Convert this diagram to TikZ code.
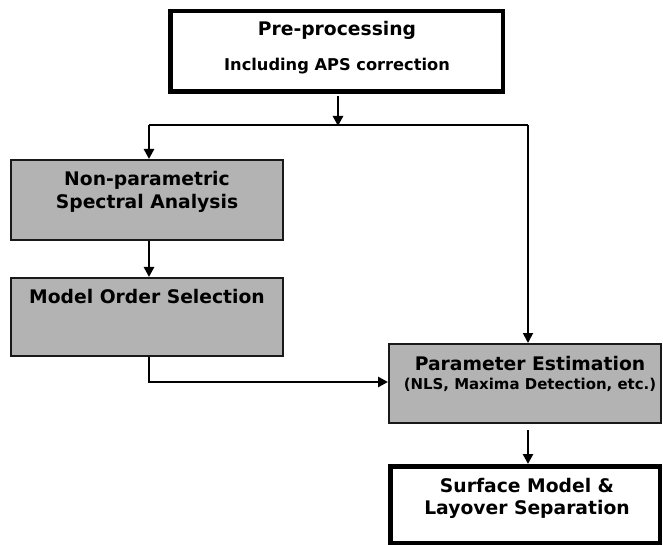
\documentclass[tikz,border=0pt]{standalone}
\usepackage{fontspec}
\setmainfont{DejaVu Sans}
\usetikzlibrary{arrows.meta}
\definecolor{boxgray}{HTML}{B3B3B3}
\begin{document}
\begin{tikzpicture}[x=1bp,y=-1bp,
  graybox/.style={draw=black!90, line width=2bp, fill=boxgray, inner sep=0pt},
  whitebox/.style={draw=black, line width=4.5bp, fill=white, inner sep=0pt},
  title/.style={font=\fontsize{18.8}{22}\selectfont\bfseries, anchor=base, inner sep=0pt},
  subA/.style={font=\fontsize{16.3}{20}\selectfont\bfseries, anchor=base, inner sep=0pt},
  subB/.style={font=\fontsize{15}{18}\selectfont\bfseries, anchor=base, inner sep=0pt},
  tip/.style={-{Triangle[length=10bp,width=10bp]}},
  conn/.style={line width=2.5bp, tip},
  thinconn/.style={line width=1.8bp},
]
\useasboundingbox (0,0) rectangle (663,546);
% boxes
\node[whitebox, minimum width=332.5bp, minimum height=80.5bp] (pre) at (336.5,51.5) {};
\node[graybox, minimum width=272bp, minimum height=80bp] (npsa) at (147,200) {};
\node[graybox, minimum width=272bp, minimum height=78bp] (mos) at (147,317) {};
\node[graybox, minimum width=272bp, minimum height=79bp] (pe) at (525,383.5) {};
\node[whitebox, minimum width=269.5bp, minimum height=76.5bp] (sm) at (525,504.5) {};
% texts
\node[title] (t1) at (337,36) {Pre-processing};
\node[subA] (t2) at (337,71) {Including APS correction};
\node[title] (t3) at (147,186) {Non-parametric};
\node[title] (t4) at (147,209) {Spectral Analysis};
\node[title] (t5) at (147,303) {Model Order Selection};
\node[title] (t6) at (530,370.5) {Parameter Estimation};
\node[subB] (t7) at (530,389) {(NLS, Maxima Detection, etc.)};
\node[title] (t8) at (527,492) {Surface Model \&};
\node[title] (t9) at (527,514) {Layover Separation};
% connectors
\coordinate (split) at (338,125);
\draw[conn, shorten <=2bp] ([xshift=1.5bp]pre.south) -- ([xshift=1.5bp,yshift=-1bp]pre.south |- split);
\draw[thinconn] ([xshift=2bp]npsa.north |- split) -- ([xshift=3bp]pe.north |- split);
\draw[conn] ([xshift=2bp]npsa.north |- split) -- ([xshift=2bp]npsa.north);
\draw[thinconn, tip] ([xshift=3bp]pe.north |- split) -- ([xshift=3bp]pe.north);
\draw[conn] ([xshift=2bp]npsa.south) -- ([xshift=2bp]mos.north);
\draw[conn] ([xshift=2bp]mos.south) |- ([yshift=1.5bp]pe.west);
\draw[conn, shorten <=6bp] ([xshift=3bp]pe.south) -- ([xshift=3bp]sm.north);
\end{tikzpicture}
\end{document}
